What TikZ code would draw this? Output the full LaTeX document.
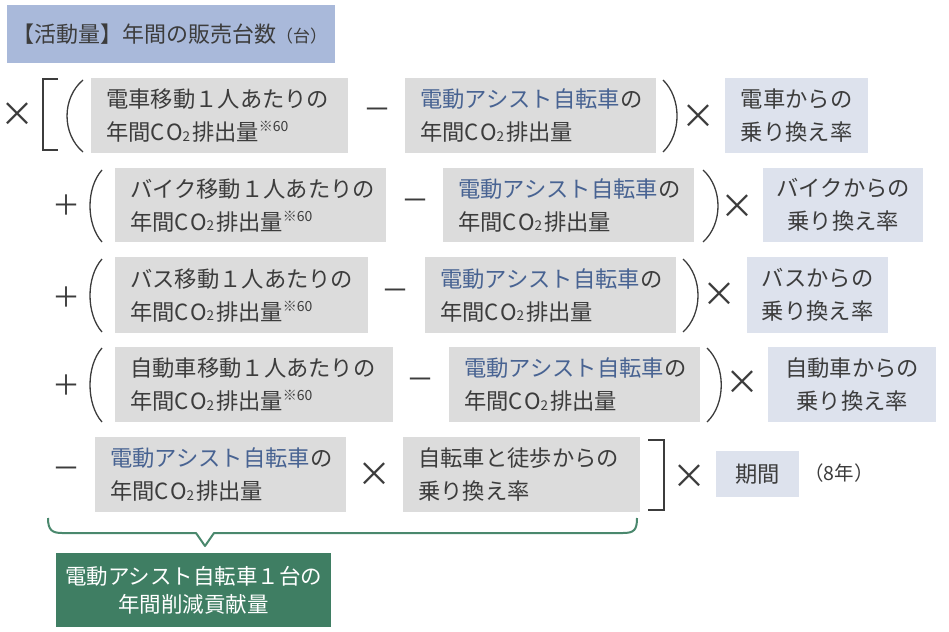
\documentclass[tikz,border=0pt]{standalone}
\usepackage{fontspec}
\setmainfont{Noto Sans CJK JP}
\definecolor{ink}{RGB}{60,60,60}
\definecolor{blu}{RGB}{72,99,146}
\definecolor{boxgray}{RGB}{220,220,220}
\definecolor{boxblue}{RGB}{221,226,237}
\definecolor{titleblue}{RGB}{169,185,218}
\definecolor{grn}{RGB}{63,126,99}
\definecolor{brc}{RGB}{74,136,109}
\newcommand\cotwo{C\hspace{1pt}O\raisebox{-0.5pt}{\fontsize{13.5}{13.5}\selectfont 2}\hspace{2pt}}
\newcommand\komesixty{\raisebox{9pt}{\fontsize{14}{14}\selectfont ※60}}
\newcommand\denjiten{\textcolor{blu}{電動アシスト自転車}の}
\begin{document}
\begin{tikzpicture}[x=1pt,y=-1pt,
  txt/.style={text=ink, font=\fontsize{22.3}{33}\selectfont},
  gbox/.style={txt, fill=boxgray, anchor=north west, inner xsep=15pt, inner ysep=0pt, align=left},
  cbox/.style={txt, fill=boxblue, anchor=north west, inner xsep=0pt, inner ysep=0pt, align=center},
  op/.style={text=ink, font=\fontsize{34}{34}\selectfont, inner sep=0pt},
  pm/.style={text=ink, font=\fontsize{28}{28}\selectfont, inner sep=0pt},
  pl/.style={draw=ink, line width=1.3pt},
  brace/.style={draw=brc, line width=2pt, line join=round}
]
\useasboundingbox (0,0) rectangle (949,631);

% title
\node[txt, fill=titleblue, anchor=north west, minimum width=328pt, minimum height=58pt, inner sep=0pt, text width=318pt, align=left, font=\fontsize{22}{26}\selectfont] (title) at (7,5)
  {【活動量】年間の販売台数{\fontsize{17}{17}\selectfont （台）}};

% row 1
\node[op] (x0) at (18,115) {×};
\draw[pl] (58,79) -- (43,79) -- (43,150) -- (58,150);
\draw[pl] (83,80) .. controls (61.7,98) and (61.7,134) .. (83,152);
\node[gbox, text width=227pt, minimum height=75pt] (r1a) at (91,78) {電車移動１人あたりの\\年間\cotwo 排出量\komesixty};
\node[pm] (r1m) at (377,114) {－};
\node[gbox, text width=221pt, minimum height=75pt] (r1b) at (405,78) {\denjiten\\年間\cotwo 排出量};
\draw[pl] (663,80) .. controls (681.7,98) and (681.7,134) .. (663,152);
\node[op] (r1x) at (698,117) {×};
\node[cbox, text width=143pt, minimum height=75pt] (r1c) at (725,78) {電車からの\\乗り換え率};

% row 2
\node[pm] (r2p) at (66,205) {＋};
\draw[pl] (102,170) .. controls (86,188) and (86,224) .. (102,242);
\node[gbox, text width=241pt, minimum height=74pt] (r2a) at (115,168) {バイク移動１人あたりの\\年間\cotwo 排出量\komesixty};
\node[pm] (r2m) at (415,205) {－};
\node[gbox, text width=221pt, minimum height=74pt] (r2b) at (443,168) {\denjiten\\年間\cotwo 排出量};
\draw[pl] (703,170) .. controls (723,188) and (723,224) .. (703,242);
\node[op] (r2x) at (737,207) {×};
\node[cbox, text width=160pt, minimum height=74pt] (r2c) at (763,168) {バイクからの\\乗り換え率};

% row 3
\node[pm] (r3p) at (66,297) {＋};
\draw[pl] (102,259) .. controls (86,277) and (86,314) .. (102,332);
\node[gbox, text width=223pt, minimum height=76pt] (r3a) at (115,257) {バス移動１人あたりの\\年間\cotwo 排出量\komesixty};
\node[pm] (r3m) at (395,295) {－};
\node[gbox, text width=221pt, minimum height=76pt] (r3b) at (425,257) {\denjiten\\年間\cotwo 排出量};
\draw[pl] (683,259) .. controls (703,277) and (703,314) .. (683,332);
\node[op] (r3x) at (719,295) {×};
\node[cbox, text width=141pt, minimum height=76pt] (r3c) at (747,257) {バスからの\\乗り換え率};

% row 4
\node[pm] (r4p) at (66,385) {＋};
\draw[pl] (102,348) .. controls (86,366) and (86,404) .. (102,422);
\node[gbox, text width=248pt, minimum height=75pt] (r4a) at (115,347) {自動車移動１人あたりの\\年間\cotwo 排出量\komesixty};
\node[pm] (r4m) at (420,384) {－};
\node[gbox, text width=221pt, minimum height=75pt] (r4b) at (449,347) {\denjiten\\年間\cotwo 排出量};
\draw[pl] (707,348) .. controls (726,366) and (726,404) .. (707,422);
\node[op] (r4x) at (742,383) {×};
\node[cbox, text width=168pt, minimum height=75pt] (r4c) at (768,347) {自動車からの\\乗り換え率};

% row 5
\node[pm] (r5m) at (66,473) {－};
\node[gbox, text width=221pt, minimum height=75pt] (r5a) at (95,437) {\denjiten\\年間\cotwo 排出量};
\node[op] (r5x) at (374,475) {×};
\node[gbox, text width=207pt, minimum height=75pt] (r5b) at (403,437) {自転車と徒歩からの\\乗り換え率};
\draw[pl] (648,440) -- (664,440) -- (664,510) -- (648,510);
\node[op] (r5y) at (689,477) {×};
\node[cbox, text width=83pt, minimum height=46pt] (r5c) at (716,451) {期間};
\node[txt, inner sep=0pt, font=\fontsize{19.5}{19.5}\selectfont] (years) at (839,473) {（8年）};

% brace and result
\draw[brace] (48,518) .. controls (48,530) and (52,533) .. (62,533) -- (196,533) -- (205,546) -- (214,533) -- (623,533) .. controls (634,533) and (637,530) .. (637,518);
\node[fill=grn, text=white, anchor=north west, minimum width=275pt, minimum height=74pt, inner sep=0pt, text width=275pt, align=center, font=\fontsize{21.5}{28}\selectfont] (result) at (56,553) {電動アシスト自転車１台の\\年間削減貢献量};
\end{tikzpicture}
\end{document}
